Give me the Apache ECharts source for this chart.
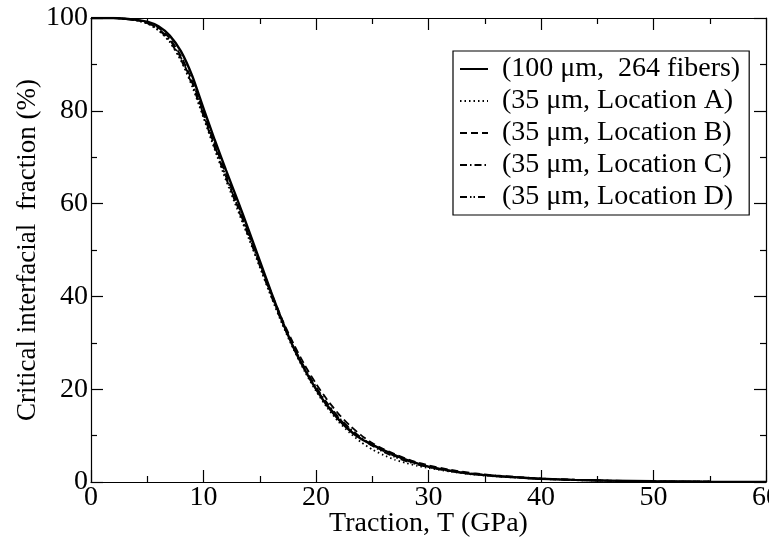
<!DOCTYPE html>
<html><head><meta charset="utf-8">
<script src="https://cdn.jsdelivr.net/npm/echarts@6/dist/echarts.min.js"></script>
<style>html,body{margin:0;padding:0;background:#fff}#c{width:769px;height:542px}</style>
</head><body><div id="c"></div>
<script>
var T = [0,2,4,5,6,7,8,9,10,11,12,13,14,15,16,17,18,19,20,21,22,23,24,25,26,27,28,29,30,32,34,36,38,40,43,46,50,55,60];
var full264 = [100,100,99.6,99.2,98.2,96.2,92.8,87.5,80.5,73.7,67.2,60.9,54.4,47.7,41,34.7,29,24.2,20,16.4,13.5,11.1,9.3,8,6.9,5.8,4.8,4,3.3,2.4,1.7,1.3,1.0,0.7,0.45,0.3,0.15,0.05,0.02];
var locA = [100,100,99.5,98.8,97.3,94.8,90.8,85.2,78.5,71.6,65,58.8,52.6,46.3,40,34,28.6,23.8,19.6,16,13,10.6,8.6,7,5.8,4.8,4.1,3.5,3,2.2,1.6,1.2,0.9,0.65,0.4,0.25,0.12,0.05,0.02];
var locB = [100,100,99.6,99.1,97.9,95.6,91.8,86.4,79.6,72.8,66.3,60.1,53.8,47.3,40.9,35,29.8,25.2,21.2,17.7,14.7,12.2,10.1,8.4,7.1,6,5,4.2,3.6,2.6,1.9,1.4,1.05,0.75,0.5,0.3,0.15,0.05,0.02];
var locC = [100,100,99.6,99,97.7,95.3,91.4,86,79.2,72.4,65.8,59.6,53.3,46.9,40.5,34.5,29.2,24.6,20.5,17,14,11.6,9.6,8,6.7,5.6,4.7,3.9,3.3,2.4,1.8,1.3,1.0,0.7,0.45,0.28,0.14,0.05,0.02];
var locD = [100,100,99.5,98.9,97.5,95,91,85.6,78.9,72,65.5,59.3,53,46.6,40.2,34.3,29,24.4,20.2,16.7,13.8,11.4,9.4,7.8,6.5,5.4,4.5,3.8,3.2,2.3,1.7,1.25,0.95,0.68,0.43,0.27,0.13,0.05,0.02];
var xTicks = [0,10,20,30,40,50,60];
var yTicks = [0,20,40,60,80,100];
var names = ['(100 \u03bcm,  264 fibers)','(35 \u03bcm, Location A)','(35 \u03bcm, Location B)','(35 \u03bcm, Location C)','(35 \u03bcm, Location D)'];

function pairs(v){ return T.map(function(t,i){ return [t, v[i]]; }); }
var font = 'Liberation Serif';
var chart = echarts.init(document.getElementById('c'));
var axCommon = {
  axisLine:{show:true,onZero:false,lineStyle:{color:'#000',width:1.2}},
  axisTick:{show:true,inside:true,length:12,lineStyle:{color:'#000',width:1.2}},
  minorTick:{show:true,splitNumber:2,length:6,lineStyle:{color:'#000',width:1.2}},
  splitLine:{show:false}
};
function ax(extra){ return Object.assign({}, JSON.parse(JSON.stringify(axCommon)), extra); }
var styles = [
  {type:'solid', width:2.4},
  {type:[1.5,3], width:1.8},
  {type:[7,4], width:1.8},
  {type:[7,3,1.5,3], width:1.8},
  {type:[7,3,1.5,2,1.5,3], width:1.8}
];
var data = [full264, locA, locB, locC, locD];
chart.setOption({
  animation:false,
  backgroundColor:'#fff',
  grid:{left:91,right:3,top:18,bottom:60,show:false,outerBoundsMode:'none',containLabel:false},
  legend:{
    orient:'vertical', left:453, top:51,
    borderColor:'#000', borderWidth:1.2, padding:[4,9,4,6],
    itemWidth:28, itemHeight:14, itemGap:4,
    itemStyle:{opacity:0},
    textStyle:{fontFamily:font,fontSize:28,color:'#000',lineHeight:28,padding:[0,0,0,9]},
    data:names
  },
  xAxis:[
    ax({type:'value',min:0,max:60,interval:10,position:'bottom',
      name:'Traction, T (GPa)',nameLocation:'middle',nameGap:28,nameMoveOverlap:false,
      nameTextStyle:{fontFamily:font,fontSize:28,color:'#000'},
      axisLabel:{fontFamily:font,fontSize:28,color:'#000',margin:2,
        formatter:function(v){return xTicks.indexOf(v)>=0?String(v):'';}}}),
    ax({type:'value',min:0,max:60,interval:10,position:'top',axisLabel:{show:false}})
  ],
  yAxis:[
    ax({type:'value',min:0,max:100,interval:20,position:'left',
      name:'Critical interfacial  fraction (%)',nameLocation:'middle',nameGap:50,nameMoveOverlap:false,
      nameTextStyle:{fontFamily:font,fontSize:27,color:'#000'},
      axisLabel:{fontFamily:font,fontSize:28,color:'#000',margin:3,
        formatter:function(v){return yTicks.indexOf(v)>=0?String(v):'';}}}),
    ax({type:'value',min:0,max:100,interval:20,position:'right',axisLabel:{show:false}})
  ],
  series: data.map(function(v,i){
    return {name:names[i],type:'line',data:pairs(v),showSymbol:false,symbol:'none',smooth:0.2,
      lineStyle:Object.assign({color:'#000'},styles[i]),itemStyle:{color:'#000'},z:10-i};
  })
});
</script></body></html>
